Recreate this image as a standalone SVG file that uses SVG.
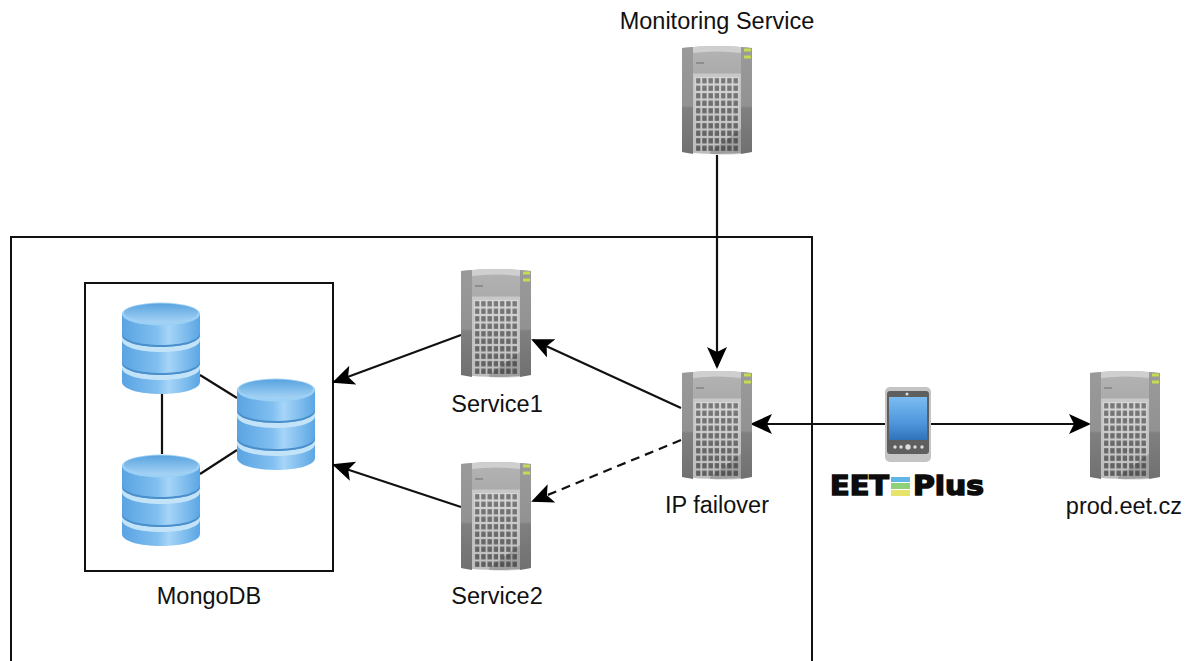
<svg xmlns="http://www.w3.org/2000/svg" xmlns:xlink="http://www.w3.org/1999/xlink" width="1187" height="661" viewBox="0 0 1187 661">
<style>
.lbl{font-family:"Liberation Sans",Arial,sans-serif;font-size:23.5px;fill:#111;text-anchor:middle}
.frame{fill:none;stroke:#111;stroke-width:2}
.conn{fill:none;stroke:#111;stroke-width:2.2}
.arr{marker-end:url(#ah)}
.eet{font-family:"DejaVu Sans",sans-serif;font-weight:bold;font-size:27px;fill:#0c0c0c;stroke:#0c0c0c;stroke-width:1.5}
</style>
<defs>
<marker id="ah" markerUnits="userSpaceOnUse" markerWidth="26" markerHeight="22" refX="20" refY="10" orient="auto">
<path d="M0 0L22 10L0 20L5 10Z" fill="#000"/>
</marker>
<linearGradient id="sBody" x1="0" y1="0" x2="0" y2="1"><stop offset="0" stop-color="#b4b4b4"/><stop offset=".25" stop-color="#ababab"/><stop offset=".26" stop-color="#c8c8c8"/><stop offset="1" stop-color="#bdbdbd"/></linearGradient>
<linearGradient id="sSide" x1="0" y1="0" x2="0" y2="1"><stop offset="0" stop-color="#9a9a9a"/><stop offset=".55" stop-color="#929292"/><stop offset=".57" stop-color="#808080"/><stop offset="1" stop-color="#707070"/></linearGradient>
<linearGradient id="cellShade" x1="0" y1="0" x2="0" y2="1"><stop offset="0" stop-color="#fff" stop-opacity=".12"/><stop offset="1" stop-color="#000" stop-opacity=".1"/></linearGradient>
<linearGradient id="dbSide" x1="0" y1="0" x2="1" y2="0"><stop offset="0" stop-color="#5aa4e2"/><stop offset=".45" stop-color="#80bff0"/><stop offset=".6" stop-color="#a6d5f8"/><stop offset="1" stop-color="#5ba6e4"/></linearGradient>
<linearGradient id="dbTop" x1="0" y1="0" x2="0" y2="1"><stop offset="0" stop-color="#5aa3e0"/><stop offset="1" stop-color="#a5d4f5"/></linearGradient>
<linearGradient id="screen" x1="0" y1="0" x2="0" y2="1"><stop offset="0" stop-color="#7bbcf0"/><stop offset=".6" stop-color="#4f96dc"/><stop offset="1" stop-color="#2f74ba"/></linearGradient>
<pattern id="cells" x="13" y="32" width="6.25" height="7.5" patternUnits="userSpaceOnUse">
<rect width="6.25" height="7.5" fill="#d4d4d4"/><rect x="1" y="1.1" width="4.4" height="5.3" fill="#686868"/>
</pattern>
<g id="server">
<path d="M0 3Q35 -1 70 3V107Q35 111 0 107Z" fill="url(#sBody)"/>
<path d="M0 3Q5 2.5 11 2V109L0 107Z" fill="url(#sSide)"/>
<path d="M59 2Q65 2.5 70 3V107L59 109Z" fill="url(#sSide)"/>
<path d="M11 2Q35 0 59 2V8Q35 5 11 8Z" fill="#cfcfcf"/>
<rect x="13" y="32" width="44" height="75" fill="url(#cells)"/>
<rect x="13" y="32" width="44" height="75" fill="url(#cellShade)"/>
<path d="M28 107L59 84V109Q40 110 28 109Z" fill="#333" opacity=".22"/>
<rect x="62" y="3.5" width="7" height="3" fill="#c4dc50"/>
<rect x="62" y="10.5" width="7" height="3" fill="#c4dc50"/>
<rect x="14" y="17" width="8" height="2" fill="#8e8e8e"/>
</g>
<g id="db">
<path d="M0 12V80C0 87 17 92 39 92S78 87 78 80V12Z" fill="url(#dbSide)"/>
<path d="M0 33C0 40 17 45 39 45S78 40 78 33V38C78 45 61 50 39 50S0 45 0 38Z" fill="#c3e3f9"/>
<path d="M0 31C0 38 17 43 39 43S78 38 78 31V33C78 40 61 45 39 45S0 40 0 33Z" fill="#4a8fcb"/>
<path d="M0 61C0 68 17 73 39 73S78 68 78 61V66C78 73 61 78 39 78S0 73 0 66Z" fill="#c3e3f9"/>
<path d="M0 59C0 66 17 71 39 71S78 66 78 59V61C78 68 61 73 39 73S0 68 0 61Z" fill="#4a8fcb"/>
<ellipse cx="39" cy="12" rx="39" ry="11.5" fill="#9dd0f5"/>
<ellipse cx="39" cy="11" rx="37" ry="9.5" fill="url(#dbTop)"/>
</g>
</defs>
<rect width="1187" height="661" fill="#fff"/>

<g id="connectors">
<path class="frame" d="M11 661V237H812V661"/>
<path class="frame" d="M85 283H333V571H85Z"/>
<path class="conn" d="M200 375L237 398M200 474L237 450M162 394V454"/>
<path class="conn arr" d="M717 155V367"/>
<path class="conn arr" d="M681 408L533 340"/>
<path class="conn arr" stroke-dasharray="9 6" d="M681 440L533 501"/>
<path class="conn arr" d="M461 335L334 382"/>
<path class="conn arr" d="M461 507L334 465"/>
<path class="conn arr" d="M885 424H752"/>
<path class="conn arr" d="M931 424H1089"/>
</g>

<g id="monitoring"><use href="#server" x="682" y="45"/><text class="lbl" x="717" y="29">Monitoring Service</text></g>
<g id="service1"><use href="#server" x="461" y="268"/><text class="lbl" x="497" y="412">Service1</text></g>
<g id="service2"><use href="#server" x="461" y="461"/><text class="lbl" x="497" y="604">Service2</text></g>
<g id="ipfailover"><use href="#server" x="682" y="370"/><text class="lbl" x="717" y="513">IP failover</text></g>
<g id="prod"><use href="#server" x="1090" y="370"/><text class="lbl" x="1124" y="514">prod.eet.cz</text></g>
<g id="mongodb">
<use href="#db" x="122" y="302"/><use href="#db" x="237" y="378"/><use href="#db" x="122" y="454"/>
<text class="lbl" x="209" y="604">MongoDB</text>
</g>
<g id="phone">
<rect x="885" y="387" width="46" height="75" rx="5" fill="#c4c4c4"/>
<rect x="887" y="391" width="42" height="63" rx="3" fill="#5f5f5f"/>
<rect x="889" y="397" width="38" height="43" fill="url(#screen)"/>
<circle cx="907" cy="394" r="1.5" fill="#ddd"/>
<g fill="#ddd"><circle cx="895" cy="447" r="1.7"/><circle cx="901" cy="447" r="1.7"/><circle cx="908" cy="447" r="2.7"/><circle cx="915" cy="447" r="1.7"/><circle cx="922" cy="447" r="1.7"/></g>
</g>
<g id="eetplus">
<text class="eet" x="830" y="495" textLength="59" lengthAdjust="spacingAndGlyphs">EET</text>
<rect x="891" y="477" width="19" height="5" fill="#5fb6e6"/>
<rect x="891" y="483" width="19" height="6" fill="#8fd07a"/>
<rect x="891" y="490" width="19" height="6" fill="#e8e36a"/>
<text class="eet" x="913" y="495" textLength="71" lengthAdjust="spacingAndGlyphs">Plus</text>
</g>
</svg>
